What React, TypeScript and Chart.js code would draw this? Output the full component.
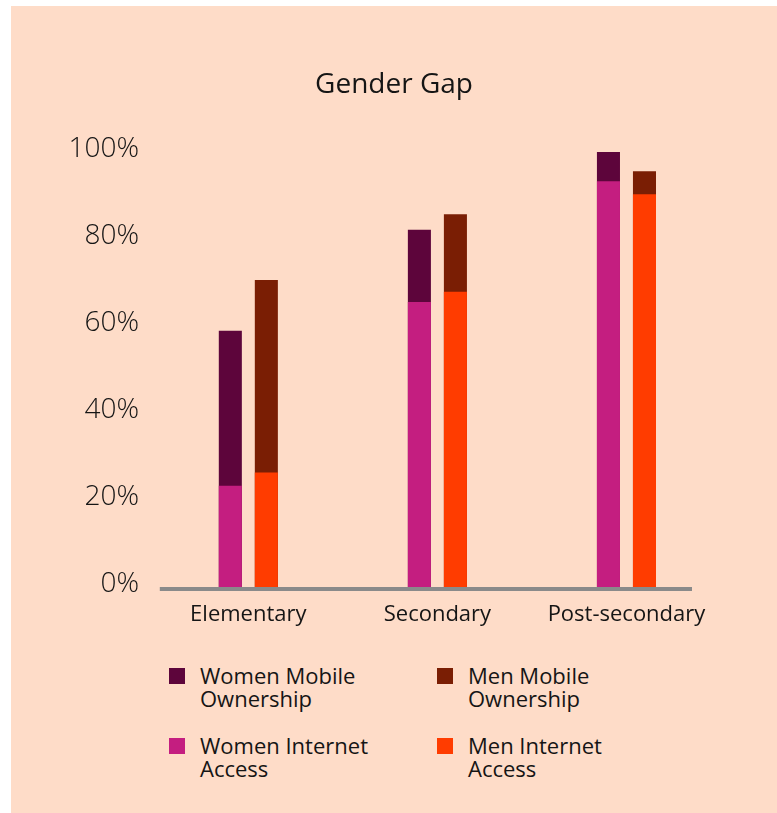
import React, { useEffect, useRef } from "react";
import { Chart, registerables } from "chart.js";

Chart.register(...registerables);

const chartTitle = "Gender Gap";
const categories = ["Elementary", "Secondary", "Post-secondary"];
const womenMobileOwnership = [58.9, 82.1, 100];
const menMobileOwnership = [70.6, 85.7, 95.6];
const womenInternetAccess = [23.3, 65.5, 93.3];
const menInternetAccess = [26.3, 67.9, 90.3];
const yMin = 0;
const yMax = 100;
const yStep = 20;

const seriesNames = {
  womenMobile: "Women Mobile Ownership",
  menMobile: "Men Mobile Ownership",
  womenInternet: "Women Internet Access",
  menInternet: "Men Internet Access",
};

const colors = {
  womenMobile: "#5d053b",
  menMobile: "#7a1e04",
  womenInternet: "#c41e80",
  menInternet: "#ff3c00",
  bg: "#fedcc8",
  axis: "#8a8a8a",
  text: "#151515",
};

const FONT = "'Open Sans', 'Noto Sans', sans-serif";

const legendItems = [
  { label: seriesNames.womenMobile, color: colors.womenMobile },
  { label: seriesNames.menMobile, color: colors.menMobile },
  { label: seriesNames.womenInternet, color: colors.womenInternet },
  { label: seriesNames.menInternet, color: colors.menInternet },
];

const axisLinePlugin = {
  id: "axisLine",
  afterDatasetsDraw(chart: any) {
    const { ctx, chartArea } = chart;
    const y = chart.scales.y.getPixelForValue(0);
    ctx.save();
    ctx.strokeStyle = colors.axis;
    ctx.lineWidth = 4;
    ctx.beginPath();
    ctx.moveTo(chartArea.left + 6, y + 2);
    ctx.lineTo(chartArea.right - 29, y + 2);
    ctx.stroke();
    ctx.restore();
  },
};

export default function App() {
  const canvasRef = useRef<HTMLCanvasElement | null>(null);

  useEffect(() => {
    if (!canvasRef.current) return;
    const chart = new Chart(canvasRef.current, {
      type: "bar",
      data: {
        labels: categories,
        datasets: [
          {
            label: seriesNames.womenInternet,
            data: womenInternetAccess,
            backgroundColor: colors.womenInternet,
            stack: "women",
          },
          {
            label: seriesNames.menInternet,
            data: menInternetAccess,
            backgroundColor: colors.menInternet,
            stack: "men",
          },
          {
            label: seriesNames.womenMobile,
            data: womenMobileOwnership,
            backgroundColor: colors.womenMobile,
            stack: "women",
          },
          {
            label: seriesNames.menMobile,
            data: menMobileOwnership,
            backgroundColor: colors.menMobile,
            stack: "men",
          },
        ],
      },
      options: {
        animation: false,
        responsive: false,
        maintainAspectRatio: false,
        datasets: {
          bar: {
            categoryPercentage: 0.381,
            barPercentage: 0.64,
          },
        },
        layout: {
          padding: { top: 62.2, right: 56, bottom: 2.6, left: 56 },
        },
        plugins: {
          legend: { display: false },
          tooltip: { enabled: false },
          title: {
            display: true,
            text: chartTitle,
            color: colors.text,
            font: { family: FONT, size: 28, weight: "400" as any, lineHeight: 1.2 },
            padding: { top: 0, bottom: 50.2 },
          },
        },
        scales: {
          x: {
            stacked: true,
            grid: { display: false, drawTicks: false },
            border: { display: false },
            ticks: {
              color: colors.text,
              font: { family: FONT, size: 22, weight: "400" as any, lineHeight: 1.2 },
              padding: 15,
              maxRotation: 0,
            },
          },
          y: {
            stacked: false,
            min: yMin,
            max: yMax,
            grid: { display: false, drawTicks: false },
            border: { display: false },
            afterFit(scale: any) {
              scale.width = 86.8;
            },
            ticks: {
              stepSize: yStep,
              color: colors.text,
              padding: 14.8,
              labelOffset: -3,
              font: { family: FONT, size: 28, weight: "300" as any, lineHeight: 1.2 },
              callback: (v: any) => `${v}%`,
            },
          },
        },
      },
      plugins: [axisLinePlugin],
    });
    return () => chart.destroy();
  }, []);

  return (
    <div
      style={{
        position: "absolute",
        left: 11,
        top: 6,
        width: 766,
        height: 807,
        background: colors.bg,
        fontFamily: FONT,
        overflow: "hidden",
      }}
    >
      <canvas
        ref={canvasRef}
        width={766}
        height={640}
        style={{ position: "absolute", left: 0, top: 0, width: 766, height: 640 }}
      />
      <div
        style={{
          position: "absolute",
          left: 158,
          top: 658,
          display: "grid",
          gridTemplateColumns: "268px 268px",
          rowGap: 24,
        }}
      >
        {legendItems.map((item) => (
          <div key={item.label} style={{ display: "flex", alignItems: "flex-start" }}>
            <span
              style={{
                display: "inline-block",
                width: 16,
                height: 16,
                background: item.color,
                marginTop: 4,
                flex: "0 0 auto",
              }}
            />
            <span
              style={{
                marginLeft: 15,
                width: 200,
                fontSize: 22,
                lineHeight: "23px",
                color: colors.text,
                fontWeight: 400,
              }}
            >
              {item.label}
            </span>
          </div>
        ))}
      </div>
    </div>
  );
}
